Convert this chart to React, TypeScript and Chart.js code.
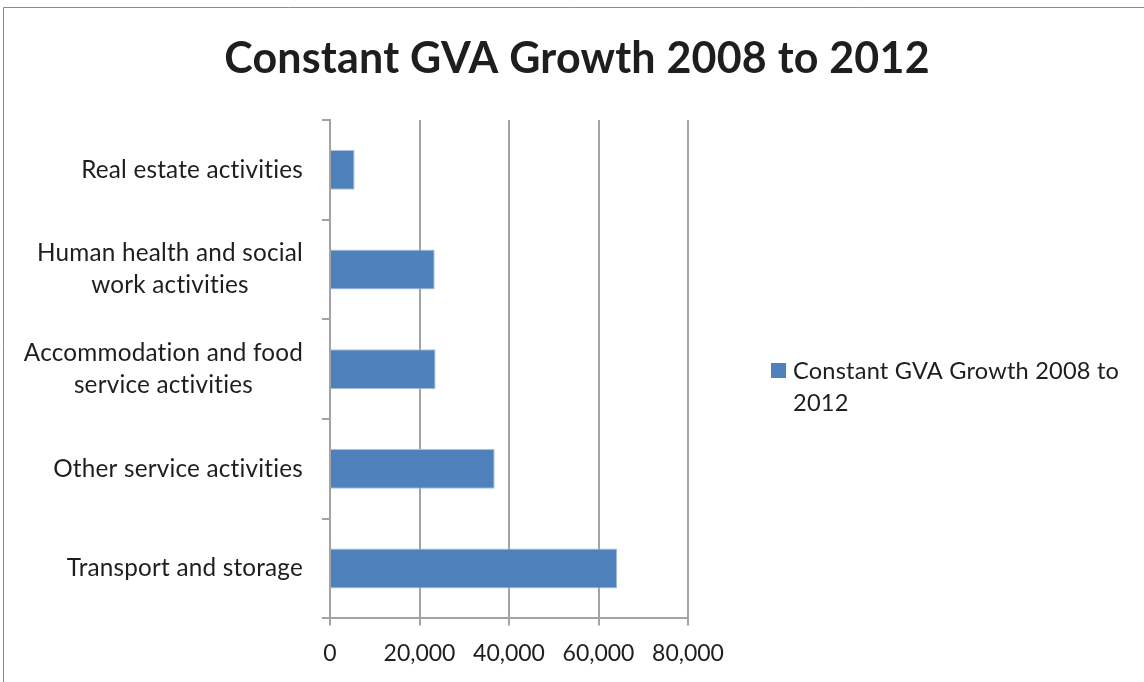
import React, { useEffect, useRef } from "react";
import { Chart, registerables } from "chart.js";

Chart.register(...registerables);

const titleText = "Constant GVA Growth 2008 to 2012";
const seriesLabel = "Constant GVA Growth 2008 to 2012";
const legendLines = ["Constant GVA Growth 2008 to", "2012"];
const categories: string[][] = [
  ["Real estate activities"],
  ["Human health and social", "work activities"],
  ["Accommodation and food", "service activities"],
  ["Other service activities"],
  ["Transport and storage"],
];
const values = [5500, 23400, 23600, 36800, 64200];
const xTicks = [0, 20000, 40000, 60000, 80000];

const FONT = "Lato, 'Open Sans', sans-serif";
const TEXT = "#1e1e1e";
const BAR = "#4f81bd";
const GRID = "#a3a3a3";

const decorPlugin = {
  id: "decor",
  beforeDraw(chart: any) {
    const ctx = chart.ctx;
    ctx.save();
    ctx.fillStyle = "#ffffff";
    ctx.fillRect(0, 0, chart.width, chart.height);
    ctx.strokeStyle = "#8c8c8c";
    ctx.lineWidth = 1;
    ctx.beginPath();
    ctx.moveTo(3.5, chart.height);
    ctx.lineTo(3.5, 7.5);
    ctx.lineTo(chart.width, 7.5);
    ctx.stroke();
    ctx.restore();
  },
  afterDraw(chart: any) {
    const ctx = chart.ctx;
    const area = chart.chartArea;
    const y = chart.scales.y;
    ctx.save();
    try { (ctx as any).letterSpacing = "0.2px"; } catch (e) {}
    // title
    ctx.fillStyle = TEXT;
    ctx.font = `bold 43px ${FONT}`;
    ctx.textAlign = "center";
    ctx.textBaseline = "middle";
    ctx.fillText(titleText, 577, 59);
    // category labels: block right-aligned, lines centred inside the block
    ctx.font = `24.3px ${FONT}`;
    categories.forEach((lines, i) => {
      const yc = y.getPixelForValue(i);
      const bw = Math.max(...lines.map((l) => ctx.measureText(l).width));
      const cx = area.left - 27 - bw / 2;
      lines.forEach((l, j) => {
        ctx.fillText(l, cx, yc + (j - (lines.length - 1) / 2) * 32);
      });
    });
    // legend
    ctx.fillStyle = BAR;
    ctx.fillRect(area.right + 83, 363, 15, 15);
    ctx.fillStyle = TEXT;
    ctx.textAlign = "left";
    ctx.font = `23.6px ${FONT}`;
    legendLines.forEach((l, j) => {
      ctx.fillText(l, area.right + 105, 371 + j * 32);
    });
    ctx.restore();
  },
};

export default function App() {
  const ref = useRef<HTMLCanvasElement | null>(null);
  useEffect(() => {
    document.body.style.margin = "0";
    const chart = new Chart(ref.current as HTMLCanvasElement, {
      type: "bar",
      data: {
        labels: categories,
        datasets: [
          {
            label: seriesLabel,
            data: values,
            backgroundColor: BAR,
            borderColor: "#a9c1e3",
            borderWidth: 1,
            barPercentage: 0.4,
            categoryPercentage: 1,
          },
        ],
      },
      options: {
        indexAxis: "y",
        animation: false,
        responsive: false,
        layout: { padding: { top: 120, left: 322, right: 456, bottom: 1 } },
        plugins: {
          legend: { display: false },
          title: { display: false },
          tooltip: { enabled: false },
        },
        scales: {
          x: {
            min: 0,
            max: 80000,
            afterBuildTicks: (s: any) => {
              s.ticks = xTicks.map((v) => ({ value: v }));
            },
            grid: { color: GRID, lineWidth: 2, tickLength: 7, drawTicks: true },
            border: { color: GRID, width: 2 },
            ticks: {
              padding: 14,
              color: TEXT,
              font: { family: FONT, size: 23 },
              callback: (v: any) => Number(v).toLocaleString("en-US"),
            },
          },
          y: {
            grid: { drawOnChartArea: false, color: GRID, lineWidth: 2, tickLength: 8 },
            border: { color: GRID, width: 2 },
            ticks: { display: false },
          },
        },
      },
      plugins: [decorPlugin],
    });
    return () => chart.destroy();
  }, []);
  return (
    <div style={{ position: "fixed", left: 0, top: 0, width: 1144, height: 682 }}>
      <canvas ref={ref} width={1144} height={682} />
    </div>
  );
}
